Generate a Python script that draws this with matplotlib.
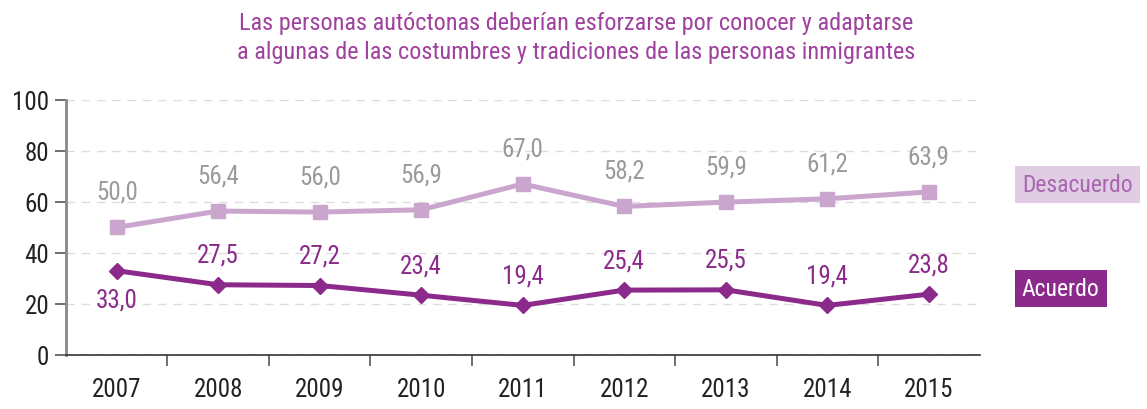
import numpy as np
import matplotlib.pyplot as plt

plt.rcParams['font.family'] = ['Roboto Condensed', 'PT Sans Narrow', 'DejaVu Sans']

years = ["2007", "2008", "2009", "2010", "2011", "2012", "2013", "2014", "2015"]
desacuerdo = [50.0, 56.4, 56.0, 56.9, 67.0, 58.2, 59.9, 61.2, 63.9]
acuerdo = [33.0, 27.5, 27.2, 23.4, 19.4, 25.4, 25.5, 19.4, 23.8]

c_dark = "#8b2a8b"
c_light = "#caa6cf"
c_gray = "#9a9a9a"
c_title = "#a0409f"

fig = plt.figure(figsize=(11.47, 4.10), dpi=100)
ax = fig.add_axes([0.0575, 0.132, 0.7965, 0.622])

x = np.arange(len(years))
ax.plot(x, desacuerdo, color=c_light, lw=3.6, marker="s", ms=10, zorder=3)
ax.plot(x, acuerdo, color=c_dark, lw=3.6, marker="D", ms=8.5, zorder=3)

def fmt(v):
    return f"{v:.1f}".replace(".", ",")

for i, v in enumerate(desacuerdo):
    ax.annotate(fmt(v), (i, v), xytext=(0, 17), textcoords="offset points",
                ha="center", va="bottom", fontsize=18, color=c_gray)
for i, v in enumerate(acuerdo):
    if i == 0:
        ax.annotate(fmt(v), (i, v), xytext=(0, -12), textcoords="offset points",
                    ha="center", va="top", fontsize=18, color=c_dark)
    else:
        ax.annotate(fmt(v), (i, v), xytext=(0, 13), textcoords="offset points",
                    ha="center", va="bottom", fontsize=18, color=c_dark)

ax.set_xlim(-0.5, len(years) - 0.5)
ax.set_ylim(0, 100)
ax.set_yticks(range(0, 101, 20))
ax.set_xticks(x)
ax.set_xticklabels(years)
ax.set_xticks(np.arange(0.5, len(years) - 1, 1), minor=True)
ax.tick_params(axis="x", which="major", length=0, pad=16, labelsize=18, colors="#222222")
ax.tick_params(axis="x", which="minor", length=8, width=1.2, color="#555555")
ax.tick_params(axis="y", length=8, width=1.2, color="#555555", labelsize=18, labelcolor="#222222", pad=4)

ax.yaxis.grid(True, color="#dddddd", ls=(0, (6, 5)), lw=1)
for s in ["top", "right"]:
    ax.spines[s].set_visible(False)
ax.spines["left"].set_color("#888888")
ax.spines["left"].set_linewidth(2)
ax.spines["bottom"].set_color("#333333")
ax.spines["bottom"].set_linewidth(1.2)

fig.text(0.502, 0.908, "Las personas autóctonas deberían esforzarse por conocer y adaptarse\n"
         "a algunas de las costumbres y tradiciones de las personas inmigrantes",
         ha="center", va="center", fontsize=17.5, color=c_title, linespacing=1.35)

fig.text(0.891, 0.547, "Desacuerdo", ha="left", va="center", fontsize=17, color="#a866b0",
         bbox=dict(boxstyle="square,pad=0.3", fc="#e0cce3", ec="none"))
fig.text(0.891, 0.294, "Acuerdo", ha="left", va="center", fontsize=17, color="white",
         bbox=dict(boxstyle="square,pad=0.3", fc=c_dark, ec="none"))

fig.savefig("out.png", dpi=100)
